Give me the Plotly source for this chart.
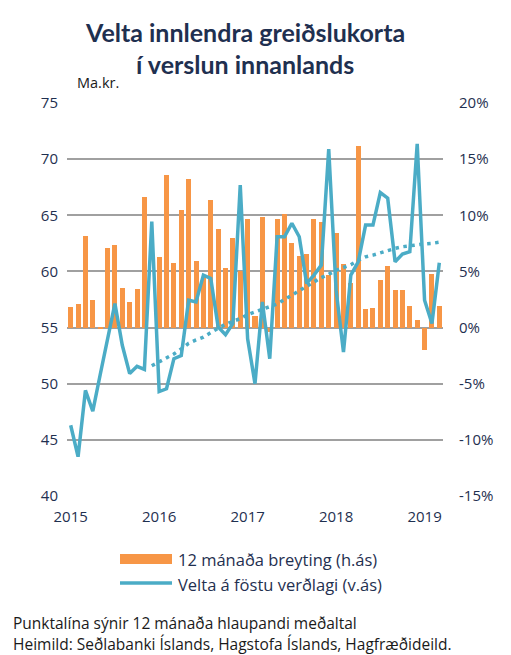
import plotly.graph_objects as go

# ---------------- data ----------------
months = [f"{y}-{m:02d}" for y in range(2015, 2020) for m in range(1, 13)][:51]
year_ticks = ["2015-01", "2016-01", "2017-01", "2018-01", "2019-01"]
year_labels = ["2015", "2016", "2017", "2018", "2019"]

change_12m = [1.85, 2.14, 8.15, 2.47, -0.15, 7.05, 7.38, 3.54, 2.26, 3.48, 11.6, 0.0,
              6.27, 13.57, 5.74, 10.48, 13.24, 5.95, 4.5, 11.34, 8.75, 5.33, 7.95, 5.0,
              9.67, 1.04, 9.82, -0.4, 9.64, 10.09, 7.56, 6.37, 6.52, 9.67, 9.4, 4.67,
              8.42, 5.65, 3.96, 16.16, 1.67, 1.73, 4.26, 5.45, 3.33, 3.33, 1.88, 0.65,
              -2.02, 4.79, 1.88]

velta = [46.3, 43.5, 49.4, 47.55, 50.8, 54.0, 57.14, 53.42, 50.9, 51.55, 51.28, 64.43,
         49.3, 49.55, 52.23, 52.5, 57.44, 57.29, 59.67, 59.37, 55.05, 54.37, 55.36, 67.7,
         54.0, 50.0, 57.29, 52.23, 63.09, 63.09, 64.29, 63.09, 58.93, 59.67, 60.56, 70.89,
         58.33, 52.82, 59.67, 60.86, 64.13, 64.13, 67.02, 66.52, 60.86, 61.54, 61.75, 71.37,
         57.44, 55.36, 60.77]

ma_months = months[11:]
velta_ma12 = [51.6, 51.95, 52.35, 52.65, 53.1, 53.6, 53.9, 54.15, 54.55, 54.9, 55.3, 55.55,
              55.8, 56.15, 56.4, 56.6, 56.85, 57.1, 57.5, 57.9, 58.25, 58.65, 59.1, 59.45,
              59.75, 60.1, 60.35, 60.6, 61.0, 61.3, 61.45, 61.65, 61.9, 62.05, 62.2, 62.3,
              62.4, 62.45, 62.5, 62.6]

left_ticks = [40, 45, 50, 55, 60, 65, 70, 75]
right_ticks = [-15, -10, -5, 0, 5, 10, 15, 20]

# ---------------- styling ----------------
ORANGE = "#F79646"
TEAL = "#4BACC6"
NAVY = "#1F3050"
DARK = "#1a1a1a"
GRID = "#A0A0A0"
FONT = "Open Sans"
TITLE_FONT = "Lato"

OFF = 8  # page body margin in the browser
W, H = 511 - OFF, 655 - OFF
# plot area in page pixels
L, R, T, B = 67, 443, 103, 496


def px(x):
    return (x - L) / (R - L)


def py(y):
    return (B - y) / (B - T)


fig = go.Figure()

fig.add_trace(go.Bar(
    x=months, y=change_12m, marker=dict(color=ORANGE, line=dict(width=0)),
    width=0.68, yaxis="y", name="12 mánaða breyting (h.ás)", showlegend=False,
))
fig.add_trace(go.Scatter(
    x=months, y=velta, mode="lines", line=dict(color=TEAL, width=3.5),
    yaxis="y2", name="Velta á föstu verðlagi (v.ás)", showlegend=False,
))
fig.add_trace(go.Scatter(
    x=ma_months, y=velta_ma12, mode="lines",
    line=dict(color=TEAL, width=3.5, dash="3.5px,4.5px"),
    yaxis="y2", showlegend=False,
))

fig.update_layout(
    width=W, height=H,
    margin=dict(l=L - OFF, r=W - (R - OFF), t=T - OFF, b=H - (B - OFF), pad=0),
    paper_bgcolor="white", plot_bgcolor="white",
    font=dict(family=FONT, color=NAVY, size=15),
    bargap=0,
    xaxis=dict(
        type="category", categoryorder="array", categoryarray=months,
        tickvals=year_ticks, ticktext=year_labels, showgrid=False,
        ticks="", showline=False, zeroline=False,
        tickfont=dict(size=15, color=NAVY), ticklabelstandoff=10,
    ),
    yaxis=dict(
        side="right", range=[-15, 20], tickvals=right_ticks,
        ticktext=[f"{v}%" for v in right_ticks],
        showgrid=True, gridcolor=GRID, gridwidth=2, zeroline=False,
        ticks="", tickfont=dict(size=15, color=NAVY), ticklabelstandoff=15,
    ),
    yaxis2=dict(
        overlaying="y", side="left", range=[40, 75], tickvals=left_ticks,
        showgrid=False, zeroline=False, ticks="",
        tickfont=dict(size=15, color=NAVY), ticklabelstandoff=8,
    ),
)

annotations = [
    dict(text="<b>Velta innlendra greiðslukorta</b>", x=px(245), y=py(32),
         font=dict(family=TITLE_FONT, size=25, color=NAVY)),
    dict(text="<b>í verslun innanlands</b>", x=px(245), y=py(64),
         font=dict(family=TITLE_FONT, size=25, color=NAVY)),
    dict(text="Ma.kr.", x=px(75), y=py(82), xanchor="left",
         font=dict(size=14.5, color=DARK)),
    dict(text="12 mánaða breyting (h.ás)", x=px(176), y=py(559), xanchor="left",
         font=dict(size=16.5, color=NAVY)),
    dict(text="Velta á föstu verðlagi (v.ás)", x=px(176), y=py(584), xanchor="left",
         font=dict(size=16.5, color=NAVY)),
    dict(text="Punktalína sýnir 12 mánaða hlaupandi meðaltal", x=px(11), y=py(623),
         xanchor="left", font=dict(size=15.5, color=DARK)),
    dict(text="Heimild: Seðlabanki Íslands, Hagstofa Íslands, Hagfræðideild.", x=px(11),
         y=py(644), xanchor="left", font=dict(size=15.5, color=DARK)),
]
for a in annotations:
    a.setdefault("xanchor", "center")
    a.update(xref="paper", yref="paper", showarrow=False, yanchor="middle")
fig.update_layout(annotations=annotations)

fig.add_shape(type="rect", xref="paper", yref="paper",
              x0=px(120), x1=px(172), y0=py(554), y1=py(564),
              fillcolor=ORANGE, line=dict(width=0))
fig.add_shape(type="line", xref="paper", yref="paper",
              x0=px(120), x1=px(172), y0=py(583), y1=py(583),
              line=dict(color=TEAL, width=3.5))

fig.write_html("out.html")
